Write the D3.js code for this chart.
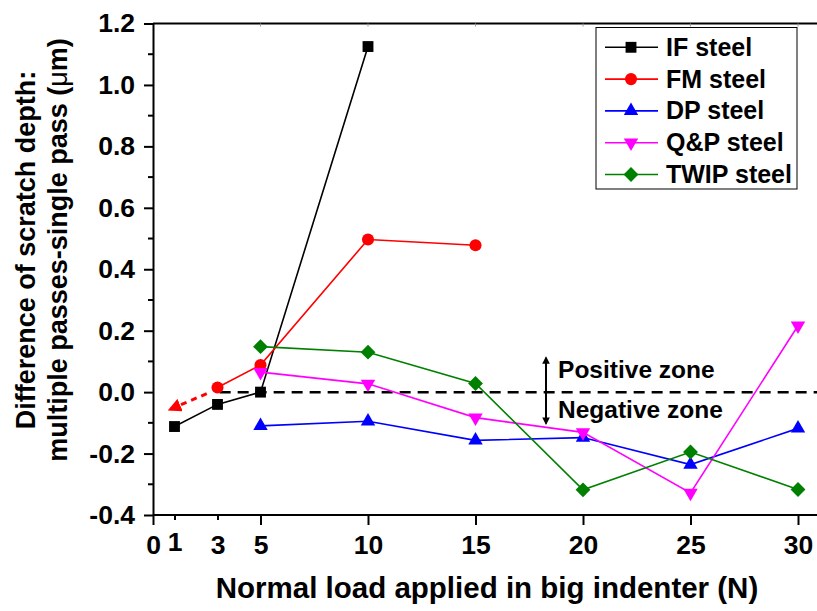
<!DOCTYPE html>
<html><head><meta charset="utf-8">
<script src="https://cdn.jsdelivr.net/npm/d3@7"></script>
<style>
html,body{margin:0;padding:0;background:#fff;}
svg{display:block;}
text{font-family:"Liberation Sans",Arial,sans-serif;font-weight:bold;fill:#000;}
</style></head>
<body>
<svg id="chart" width="817" height="611"></svg>
<script>
// ---------- data ----------
const seriesNames = ["IF steel","FM steel","DP steel","Q&P steel","TWIP steel"];
const ifX = [1,3,5,10];            const ifY = [-0.112,-0.040,0.000,1.125];
const fmX = [3,5,10,15];           const fmY = [0.015,0.088,0.497,0.478];
const dpX = [5,10,15,20,25,30];    const dpY = [-0.110,-0.095,-0.157,-0.148,-0.236,-0.118];
const qpX = [5,10,15,20,25,30];    const qpY = [0.065,0.027,-0.083,-0.131,-0.328,0.216];
const twX = [5,10,15,20,25,30];    const twY = [0.148,0.130,0.028,-0.318,-0.195,-0.317];
const xTickValues = [0,1,3,5,10,15,20,25,30];
const yTickValues = [-0.4,-0.2,0.0,0.2,0.4,0.6,0.8,1.0,1.2];
const yMinorTicks = [-0.3,-0.1,0.1,0.3,0.5,0.7,0.9,1.1];
const zoneLabels = ["Positive zone","Negative zone"];
const xTitle = "Normal load applied in big indenter (N)";
const yTitle1 = "Difference of scratch depth:";
const yTitle2 = "multiple passes-single pass (";

// ---------- layout ----------
const svg = d3.select("#chart");
const x = d3.scaleLinear().domain([0,31]).range([153,819.5]);
const y = d3.scaleLinear().domain([-0.4,1.2]).range([515,23.5]);
const colors = ["#000000","#ff0000","#0000ff","#ff00ff","#008000"];
const shapes = ["square","circle","triUp","triDown","diamond"];
const series = [[ifX,ifY],[fmX,fmY],[dpX,dpY],[qpX,qpY],[twX,twY]].map((s,i)=>({
  name:seriesNames[i], color:colors[i], shape:shapes[i],
  pts:s[0].map((v,j)=>({x:v,y:s[1][j]}))
}));

function symbolPath(shape){
  switch(shape){
    case "square": return d3.symbol(d3.symbolSquare,118)();
    case "circle": return d3.symbol(d3.symbolCircle,115)();
    case "triUp": return d3.symbol(d3.symbolTriangle,90)();
    case "triDown": return d3.symbol(d3.symbolTriangle,90)();
    case "diamond": return d3.symbol(d3.symbolSquare,110)();
  }
}
function symbolRot(shape){ return shape==="triDown"?180:(shape==="diamond"?45:0); }

// frame top line
svg.append("line").attr("x1",x(0)).attr("x2",817).attr("y1",y(1.2)).attr("y2",y(1.2))
  .attr("stroke","#000").attr("stroke-width",2);
svg.append("g").selectAll("line").data([5,10,15,20,25,30]).join("line")
  .attr("x1",d=>x(d)).attr("x2",d=>x(d)).attr("y1",y(1.2)).attr("y2",y(1.2)+3)
  .attr("stroke","#999").attr("stroke-width",1);

// x axis
const xAxis = svg.append("g").attr("transform",`translate(0,${y(-0.4)})`)
  .call(d3.axisBottom(x).tickValues(xTickValues).tickFormat(d3.format("d")).tickSize(10).tickPadding(10).tickSizeOuter(0));
xAxis.select(".domain").attr("stroke-width",2).attr("d",`M${x(0)},0H817`);
xAxis.selectAll(".tick line").attr("stroke-width",2).attr("y2",d=>d%5===0?10:5);
xAxis.selectAll(".tick text").style("font-size","26.5px").attr("font-family",null).attr("dy",d=>d===1?"0.6em":"0.71em");

// y axis
const yAxis = svg.append("g").attr("transform",`translate(${x(0)},0)`)
  .call(d3.axisLeft(y).tickValues(yTickValues).tickFormat(d=>d.toFixed(1)).tickSize(9).tickPadding(9).tickSizeOuter(0));
yAxis.select(".domain").attr("stroke-width",2);
yAxis.selectAll(".tick line").attr("stroke-width",2);
yAxis.selectAll(".tick text").style("font-size","26.5px").attr("font-family",null);
yAxis.append("g").selectAll("line").data(yMinorTicks).join("line")
  .attr("x1",-5).attr("x2",0).attr("y1",d=>y(d)).attr("y2",d=>y(d)).attr("stroke","#000").attr("stroke-width",2);

// zero dashed line
svg.append("line").attr("x1",x(3.1)).attr("x2",817).attr("y1",y(0)).attr("y2",y(0))
  .attr("stroke","#000").attr("stroke-width",2.5).attr("stroke-dasharray","11,7");

// arrowheads
const defs = svg.append("defs");
defs.append("marker").attr("id","redHead").attr("viewBox","0 0 10 10").attr("refX",8).attr("refY",5)
  .attr("markerWidth",4.5).attr("markerHeight",4.5).attr("markerUnits","strokeWidth").attr("orient","auto")
  .append("path").attr("d","M0,0L10,5L0,10Z").attr("fill","#ff0000");
defs.append("marker").attr("id","blackHead").attr("viewBox","0 0 10 10").attr("refX",8).attr("refY",5)
  .attr("markerWidth",4.5).attr("markerHeight",3.8).attr("markerUnits","strokeWidth").attr("orient","auto")
  .append("path").attr("d","M0,0L10,5L0,10Z").attr("fill","#000");

// red dashed arrow (extrapolation)
svg.append("line").attr("x1",x(2.5)).attr("y1",y(-0.005)).attr("x2",x(0.8)).attr("y2",y(-0.056))
  .attr("stroke","#ff0000").attr("stroke-width",3).attr("stroke-dasharray","6,5")
  .attr("marker-end","url(#redHead)");

// zone arrows and labels
svg.append("line").attr("x1",x(18.28)).attr("x2",x(18.28)).attr("y1",y(-0.027)).attr("y2",y(0.112))
  .attr("stroke","#000").attr("stroke-width",2).attr("marker-end","url(#blackHead)");
svg.append("line").attr("x1",x(18.28)).attr("x2",x(18.28)).attr("y1",y(-0.008)).attr("y2",y(-0.102))
  .attr("stroke","#000").attr("stroke-width",2).attr("marker-end","url(#blackHead)");
svg.append("text").attr("x",x(18.84)).attr("y",y(0.045)).style("font-size","24.5px").text(zoneLabels[0]);
svg.append("text").attr("x",x(18.84)).attr("y",y(-0.085)).style("font-size","24.5px").text(zoneLabels[1]);

// series
const line = d3.line().x(d=>x(d.x)).y(d=>y(d.y));
series.forEach(s=>{
  const g = svg.append("g");
  g.append("path").datum(s.pts).attr("d",line).attr("fill","none").attr("stroke",s.color).attr("stroke-width",1.6);
  g.selectAll("path.m").data(s.pts).join("path").attr("class","m")
    .attr("d",symbolPath(s.shape))
    .attr("transform",d=>`translate(${x(d.x)},${y(d.y)}) rotate(${symbolRot(s.shape)})`)
    .attr("fill",s.color);
});

// legend
const lg = svg.append("g");
lg.append("rect").attr("x",596).attr("y",27.5).attr("width",201).attr("height",161.5)
  .attr("fill","#fff").attr("stroke","#000").attr("stroke-width",1);
series.forEach((s,i)=>{
  const cy = 47.3 + i*31.8;
  lg.append("line").attr("x1",605).attr("x2",658).attr("y1",cy).attr("y2",cy).attr("stroke",s.color).attr("stroke-width",1.6);
  lg.append("path").attr("d",symbolPath(s.shape)).attr("transform",`translate(631,${cy}) rotate(${symbolRot(s.shape)})`).attr("fill",s.color);
  lg.append("text").attr("x",666).attr("y",cy+8.5).style("font-size","25px").text(s.name);
});

// axis titles
svg.append("text").attr("x",(x(0)+817)/2+2).attr("y",598).attr("text-anchor","middle").style("font-size","29.5px").text(xTitle);
const yt = svg.append("g").attr("transform","translate(35,250) rotate(-90)");
yt.append("text").attr("x",0).attr("y",0).attr("text-anchor","middle").style("font-size","27px").text(yTitle1);
const t2 = yt.append("text").attr("x",0).attr("y",32).attr("text-anchor","middle").style("font-size","27px");
t2.append("tspan").text(yTitle2);
t2.append("tspan").style("font-weight","normal").text("\u03bc");
t2.append("tspan").text("m)");
</script>
</body></html>
